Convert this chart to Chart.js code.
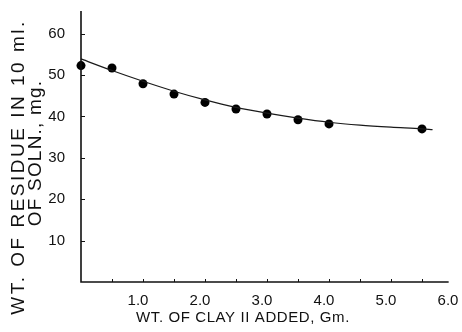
<!DOCTYPE html>
<html>
<head>
<meta charset="utf-8">
<script src="https://cdn.jsdelivr.net/npm/chart.js@4.4.1/dist/chart.umd.min.js"></script>
<style>
  html, body { margin: 0; padding: 0; background: #fff; }
  #wrap { width: 462px; height: 332px; }
</style>
</head>
<body>
<div id="wrap"><canvas id="myChart" width="462" height="332"></canvas></div>
<script>
// measured points (clay added, Gm. -> residue, mg.)
var clayAdded = [0, 0.5, 1.0, 1.5, 2.0, 2.5, 3.0, 3.5, 4.0, 5.5];
var residue = [52.3, 51.7, 47.9, 45.4, 43.4, 41.8, 40.6, 39.2, 38.2, 37.0];

// smooth curve drawn through them
var curveX = [0, 0.5, 1.0, 1.5, 2.0, 2.5, 3.0, 3.5, 4.0, 4.5, 5.0, 5.5, 5.67];
var curveY = [53.9, 51.1, 48.5, 46.1, 44.0, 42.2, 40.8, 39.6, 38.6, 37.9, 37.4, 37.0, 36.8];

var xTicks = [1, 2, 3, 4, 5, 6];
var xMinorTicks = [0.5, 1.0, 1.5, 2.0, 2.5, 3.0, 3.5, 4.0, 4.5, 5.0, 5.5];
var yTicks = [10, 20, 30, 40, 50, 60];

var xTitle = 'WT. OF CLAY II ADDED, Gm.';
var yTitle = ['WT. OF RESIDUE IN 10 ml.', 'OF SOLN., mg.'];

var FONT = '"Liberation Sans", Arial, sans-serif';
var INK = '#111';

var toPts = function (xs, ys) {
    return xs.map(function (x, i) { return { x: x, y: ys[i] }; });
};

// axes, little inside ticks and the titles
var axesPlugin = {
    id: 'axes',
    afterDraw: function (chart) {
        var ctx = chart.ctx;
        var xs = chart.scales.x, ys = chart.scales.y;
        var x0 = xs.getPixelForValue(0), y0 = ys.getPixelForValue(0);
        ctx.save();
        ctx.strokeStyle = INK;
        ctx.lineWidth = 1.6;
        ctx.beginPath();
        ctx.moveTo(x0, ys.getPixelForValue(65) - 2);
        ctx.lineTo(x0, y0);
        ctx.lineTo(xs.getPixelForValue(5.93), y0);
        ctx.stroke();

        ctx.lineWidth = 1;
        ctx.beginPath();
        yTicks.forEach(function (v) {
            var p = Math.round(ys.getPixelForValue(v)) + 0.5;
            ctx.moveTo(x0, p);
            ctx.lineTo(x0 + 4, p);
        });
        xMinorTicks.forEach(function (v) {
            var p = Math.round(xs.getPixelForValue(v)) + 0.5;
            ctx.moveTo(p, y0);
            ctx.lineTo(p, y0 - 3);
        });
        ctx.stroke();

        ctx.fillStyle = INK;
        ctx.textAlign = 'center';
        ctx.textBaseline = 'middle';
        ctx.font = '15px ' + FONT;
        ctx.letterSpacing = '0.6px';
        ctx.fillText(xTitle, 243, 318);

        ctx.font = '19px ' + FONT;
        ctx.letterSpacing = '2.5px';
        ctx.translate(19, 167);
        ctx.rotate(-Math.PI / 2);
        ctx.fillText(yTitle[0], 0, 0);
        ctx.letterSpacing = '1.2px';
        ctx.fillText(yTitle[1], 14, 17);
        ctx.restore();
    }
};

var ctx = document.getElementById('myChart').getContext('2d');
var myChart = new Chart(ctx, {
    type: 'scatter',
    data: {
        datasets: [{
            data: toPts(curveX, curveY),
            showLine: true,
            borderColor: '#1a1a1a',
            borderWidth: 1.2,
            pointRadius: 0,
            tension: 0.4,
            cubicInterpolationMode: 'monotone',
            clip: false
        }, {
            data: toPts(clayAdded, residue),
            backgroundColor: '#000',
            borderColor: '#000',
            pointRadius: 4.5,
            borderWidth: 0,
            clip: false
        }]
    },
    options: {
        responsive: false,
        animation: false,
        devicePixelRatio: 1,
        layout: { padding: { top: 13, right: 9, left: 0, bottom: 0 } },
        plugins: { legend: { display: false }, tooltip: { enabled: false } },
        scales: {
            x: {
                type: 'linear', min: 0, max: 6,
                afterBuildTicks: function (s) { s.ticks = xTicks.map(function (v) { return { value: v }; }); },
                afterFit: function (s) { s.height = 50; s.paddingLeft = 0; s.paddingRight = 0; },
                grid: { display: false, drawTicks: false },
                border: { display: false },
                ticks: {
                    color: INK, padding: 10, labelOffset: -5, maxRotation: 0, autoSkip: false,
                    font: { family: FONT, size: 15 },
                    callback: function (v) { return Number(v).toFixed(1); }
                }
            },
            y: {
                type: 'linear', min: 0, max: 65,
                afterBuildTicks: function (s) { s.ticks = yTicks.map(function (v) { return { value: v }; }); },
                afterFit: function (s) { s.width = 81; s.paddingTop = 0; s.paddingBottom = 0; },
                grid: { display: false, drawTicks: false },
                border: { display: false },
                ticks: {
                    color: INK, padding: 16, autoSkip: false,
                    font: { family: FONT, size: 15 }
                }
            }
        }
    },
    plugins: [axesPlugin]
});
</script>
</body>
</html>
